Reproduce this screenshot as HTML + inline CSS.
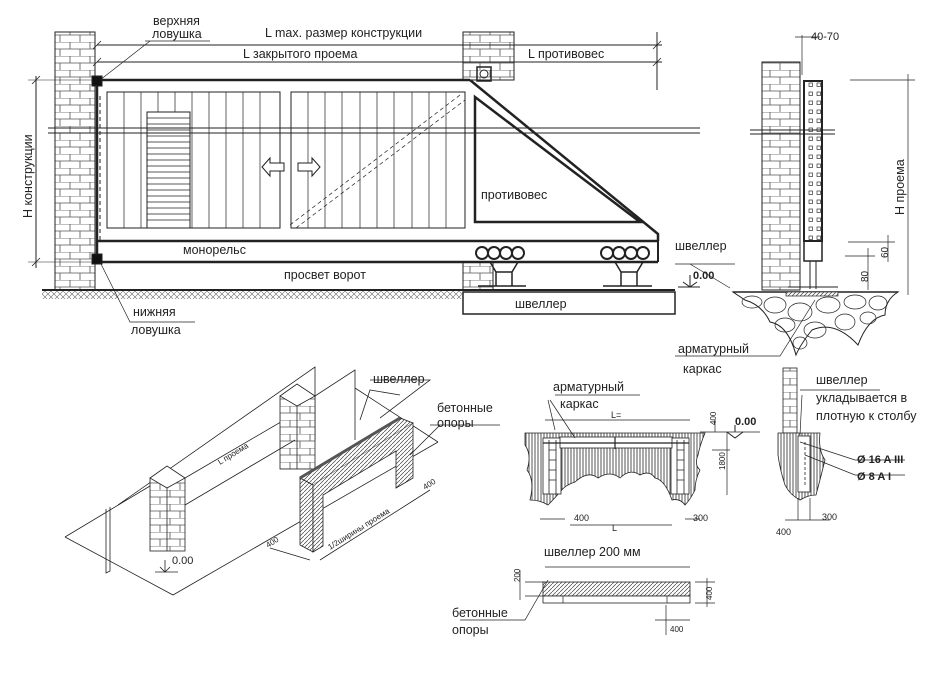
<!DOCTYPE html>
<html><head><meta charset="utf-8"><style>
html,body{margin:0;padding:0;background:#fff;}
svg{display:block;font-family:"Liberation Sans",sans-serif;}
text{fill:#222;}
</style></head><body>
<svg width="945" height="677" viewBox="0 0 945 677" xmlns="http://www.w3.org/2000/svg">
<defs>
<pattern id="brick" width="20" height="14" patternUnits="userSpaceOnUse">
<rect width="20" height="14" fill="#fff"/>
<path d="M0 0H20M0 7H20M10 0V7M0 7V14M20 7V14" stroke="#555" stroke-width="0.8" fill="none"/>
</pattern>
<pattern id="hatch" width="4" height="4" patternUnits="userSpaceOnUse">
<rect width="4" height="4" fill="#fff"/><path d="M0 4L4 0" stroke="#444" stroke-width="0.7"/>
</pattern>
<pattern id="vhatch" width="3" height="3" patternUnits="userSpaceOnUse">
<rect width="3" height="3" fill="#fff"/><path d="M1 0V3" stroke="#555" stroke-width="1"/>
</pattern>
<pattern id="xhatch" width="6" height="6" patternUnits="userSpaceOnUse">
<path d="M0 6L6 0M0 0L6 6" stroke="#666" stroke-width="0.6"/>
</pattern>
<pattern id="cells" width="8" height="9" patternUnits="userSpaceOnUse">
<rect width="8" height="9" fill="#fff"/><rect x="1" y="2" width="3.5" height="3.5" fill="none" stroke="#333" stroke-width="0.7"/>
</pattern>
</defs>
<g stroke="#222" fill="none" stroke-width="1">
<!-- left pillar -->
<rect x="55" y="32" width="40" height="258" fill="url(#brick)"/>
<!-- right pillar -->
<rect x="463" y="32" width="51" height="48" fill="url(#brick)"/>
<rect x="463" y="262" width="30" height="28" fill="url(#brick)"/>
<!-- dims top -->
<line x1="97" y1="45" x2="662" y2="45"/>
<line x1="97" y1="62" x2="662" y2="62"/>
<line x1="657" y1="32" x2="657" y2="90"/>
<path d="M653 49L661 41M653 66L661 58M93 49L101 41M93 66L101 58" stroke-width="0.8"/>
<line x1="36" y1="76" x2="36" y2="268"/>
<line x1="28" y1="80" x2="100" y2="80" stroke-width="0.6"/>
<line x1="28" y1="262" x2="100" y2="262" stroke-width="0.6"/>
<path d="M32 84L40 76M32 266L40 258" stroke-width="0.8"/>
<!-- frame -->
<line x1="97" y1="80" x2="470" y2="80" stroke-width="2.5"/>
<line x1="97" y1="80" x2="97" y2="262" stroke-width="2.5"/>
<line x1="97" y1="241" x2="658" y2="241" stroke-width="2.5"/>
<line x1="97" y1="262" x2="658" y2="262" stroke-width="2.5"/>
<line x1="658" y1="241" x2="658" y2="262" stroke-width="2"/>
<polyline points="470,80 658,234 658,241" stroke-width="2.5"/>
<polygon points="475,97 475,222 640,222" stroke-width="2.5"/>
<rect x="92" y="76" width="10" height="10" fill="#111"/>
<rect x="92" y="254" width="10" height="10" fill="#111"/>
<rect x="477" y="67" width="14" height="14" stroke-width="1.5"/>
<circle cx="484" cy="74" r="4"/>
<!-- panels -->
<rect x="107" y="92" width="173" height="136"/>
<rect x="291" y="92" width="174" height="136"/>
<g stroke-width="0.7">
<path d="M124 92V228M141 92V228M158 92V228M175 92V228M192 92V228M209 92V228M226 92V228M243 92V228M260 92V228"/>
<path d="M308 92V228M325 92V228M342 92V228M360 92V228M377 92V228M394 92V228M412 92V228M429 92V228M446 92V228"/>
</g>
<rect x="147" y="112" width="43" height="116" fill="#fff"/>
<g stroke-width="0.7"><path d="M147 118H190M147 124H190M147 130H190M147 136H190M147 142H190M147 148H190M147 154H190M147 160H190M147 166H190M147 172H190M147 178H190M147 184H190M147 190H190M147 196H190M147 202H190M147 208H190M147 214H190M147 220H190"/></g>
<path d="M290 225L460 95M296 228L465 100" stroke-dasharray="4,3" stroke-width="0.7"/>
<path d="M100 96V240" stroke-dasharray="4,3"/>
<line x1="48" y1="128" x2="700" y2="128"/>
<line x1="48" y1="133" x2="700" y2="133"/>
<path d="M262 167L270 158V163H284V171H270V176Z" fill="#fff"/>
<path d="M320 167L312 158V163H298V171H312V176Z" fill="#fff"/>
<g stroke-width="2">
<circle cx="482" cy="253" r="6"/><circle cx="494" cy="253" r="6"/><circle cx="506" cy="253" r="6"/><circle cx="518" cy="253" r="6"/>
<circle cx="607" cy="253" r="6"/><circle cx="619" cy="253" r="6"/><circle cx="631" cy="253" r="6"/><circle cx="643" cy="253" r="6"/>
</g>
<path d="M490 262L496 272H512L518 262M496 272V286M512 272V286M478 286H526" stroke-width="1.5"/>
<path d="M615 262L621 272H637L643 262M621 272V286M637 272V286M603 286H652" stroke-width="1.5"/>
<line x1="42" y1="290" x2="675" y2="290" stroke-width="2"/>
<rect x="42" y="291" width="420" height="8" fill="url(#xhatch)" stroke="none"/>
<rect x="463" y="292" width="212" height="22" stroke-width="1.5" fill="#fff"/>
<path d="M145 41H210M150 41L100 80" stroke-width="0.7"/>
<path d="M100 262L130 322H195" stroke-width="0.7"/>
<path d="M675 264H735M690 264L730 288" stroke-width="0.7"/>
<path d="M690 275V287M678 287H700M683 282L690 287L697 282" stroke-width="1"/>
<!-- right section -->
<rect x="762" y="62" width="38" height="228" fill="url(#brick)"/>
<line x1="802" y1="35" x2="802" y2="75" stroke-width="0.7"/>
<line x1="795" y1="37" x2="820" y2="37" stroke-width="0.7"/>
<rect x="804" y="81" width="18" height="160" fill="url(#cells)" stroke-width="2"/>
<rect x="804" y="241" width="18" height="20" stroke-width="1.5"/>
<path d="M810 261V289M816 261V289M788 287H838" stroke-width="1"/>
<line x1="750" y1="130" x2="835" y2="130"/>
<line x1="750" y1="134" x2="835" y2="134"/>
<path d="M850 80H915M908 74V295M848 242H895M845 256H875M888 235V262M868 248V290" stroke-width="0.7"/>
<path d="M733 292H898Q885 300 885 315Q868 318 858 345Q835 320 812 330Q800 345 796 355Q788 325 770 322Q762 305 745 300Z" fill="#fff"/>
<path d="M733 292H898" stroke-width="1.5"/>
<rect x="786" y="292" width="52" height="4" fill="url(#hatch)" stroke-width="0.7"/>
<g stroke-width="0.7">
<ellipse cx="752" cy="302" rx="10" ry="6"/><ellipse cx="775" cy="305" rx="11" ry="8"/><ellipse cx="800" cy="312" rx="12" ry="9"/>
<ellipse cx="828" cy="305" rx="12" ry="8"/><ellipse cx="855" cy="302" rx="11" ry="7"/><ellipse cx="878" cy="303" rx="9" ry="7"/>
<ellipse cx="785" cy="325" rx="10" ry="7"/><ellipse cx="815" cy="330" rx="11" ry="8"/><ellipse cx="845" cy="322" rx="10" ry="8"/>
<ellipse cx="868" cy="318" rx="8" ry="6"/><ellipse cx="800" cy="343" rx="7" ry="6"/>
</g>
<path d="M675 356H780L815 300" stroke-width="0.7"/>
</g>
<g font-size="12.5">
<text x="153" y="25">верхняя</text><text x="152" y="38">ловушка</text>
<text x="265" y="37">L max. размер  конструкции</text>
<text x="243" y="58">L закрытого проема</text>
<text x="528" y="58">L противовес</text>
<text x="481" y="199">противовес</text>
<text x="183" y="254">монорельс</text>
<text x="284" y="279">просвет ворот</text>
<text x="515" y="308">швеллер</text>
<text x="133" y="316">нижняя</text><text x="131" y="334">ловушка</text>
<text x="675" y="250">швеллер</text>
<text x="693" y="279" font-weight="bold" font-size="11">0.00</text>
<text x="678" y="353">арматурный</text><text x="683" y="373">каркас</text>
<text x="811" y="40" font-size="11">40-70</text>
<text transform="translate(32,218) rotate(-90)">Н конструкции</text>
<text transform="translate(904,215) rotate(-90)">Н проема</text>
<text transform="translate(888,258) rotate(-90)" font-size="10">60</text>
<text transform="translate(868,282) rotate(-90)" font-size="10">80</text>
</g>
<!-- bottom left iso -->
<g stroke="#222" fill="none" stroke-width="0.8">
<path d="M65 537L150 486M65 537L173 595L438 442M355 388L438 442M315 402L185 478"/>
<path d="M106 509V573L110 571V507"/>
<path d="M118 505L315 367V440"/>
<rect x="150" y="478" width="35" height="73" fill="url(#brick)"/>
<path d="M150 478L167 466L185 478L167 488Z" fill="#fff"/>
<path d="M167 488V551"/>
<rect x="280" y="396" width="35" height="73" fill="url(#brick)"/>
<path d="M280 396L297 384L315 396L297 406Z" fill="#fff"/>
<path d="M297 406V469M315 396L355 370V440"/>
<path d="M300 478L400 418L413 423L313 485Z" fill="url(#hatch)"/>
<path d="M300 478V545L313 552V485Z" fill="url(#hatch)"/>
<path d="M313 485V552L323 546V495L396 451V488L413 478V423" fill="url(#hatch)"/>
<path d="M300 478L400 418" stroke-width="3" stroke="#555"/>
<path d="M185 505L295 440M270 548L310 560M320 560L430 490M400 395L370 390L360 420"/>
<path d="M165 560V572M155 572H178M160 567L165 572L170 567"/>
<path d="M370 380H430L380 418M430 425H500M440 425L410 455"/>
</g>
<g font-size="12.5">
<text x="373" y="383">швеллер</text>
<text x="437" y="412">бетонные</text><text x="437" y="427">опоры</text>
<text x="172" y="564" font-size="11">0.00</text>
<text transform="translate(220,465) rotate(-32)" font-size="8">L проема</text>
<text transform="translate(330,550) rotate(-32)" font-size="8">1/2ширины проема</text>
<text transform="translate(268,548) rotate(-32)" font-size="8">400</text>
<text transform="translate(425,490) rotate(-32)" font-size="8">400</text>
</g>
<!-- bottom middle section -->
<g stroke="#222" fill="none" stroke-width="0.8">
<path d="M525 433H705Q700 445 698 455Q694 465 700 470Q695 480 695 490Q690 500 685 505Q680 498 672 500Q665 480 655 478Q650 470 640 475Q630 468 620 478Q610 470 598 478Q588 470 575 482Q565 485 560 492Q553 500 548 505Q540 500 530 500Q535 480 527 470Q532 455 525 445Z" fill="url(#vhatch)"/>
<rect x="543" y="438" width="18" height="56" fill="#fff"/>
<rect x="671" y="438" width="18" height="56" fill="#fff"/>
<rect x="560" y="437" width="112" height="11" fill="#fff"/>
<path d="M549 440V494M556 440V494M677 440V494M684 440V494M549 450H556M549 460H556M549 470H556M549 480H556M677 450H684M677 460H684M677 470H684M677 480H684"/>
<path d="M543 443H689M615 437V449" stroke-width="1.2"/>
<path d="M545 420H690M700 432H760M727 432V495M712 450H730M715 420V432" stroke-width="0.7"/>
<path d="M735 425V432M727 432L735 438L743 432" stroke-width="1"/>
<path d="M540 519H565M570 525H672M685 519H700M555 395H640M548 400L555 430M550 400L575 438" stroke-width="0.7"/>
<rect x="783" y="368" width="14" height="65" fill="url(#brick)"/>
<path d="M778 433H820Q818 450 825 460Q820 480 816 495Q808 495 800 500Q790 495 785 485Q780 470 778 455Z" fill="url(#vhatch)"/>
<rect x="798" y="436" width="12" height="56" fill="#fff"/>
<path d="M805 442V485" stroke-dasharray="3,2"/>
<path d="M800 390H880M802 395L800 435M800 442L855 460H905M805 455L855 475H905M798 498V520M810 498V520M785 520H830" stroke-width="0.7"/>
<rect x="543" y="582" width="147" height="14" fill="url(#hatch)"/>
<rect x="543" y="596" width="147" height="7" fill="#fff"/>
<path d="M563 596V603M667 596V603M525 582H545M525 596H545M520 570V600M695 582H715M695 603H715M707 578V607M666 605V635M655 620H690M545 567H690M548 580L525 620H460" stroke-width="0.7"/>
</g>
<g font-size="12.5">
<text x="553" y="391">арматурный</text><text x="560" y="408">каркас</text>
<text x="611" y="418" font-size="9">L=</text>
<text x="735" y="425" font-weight="bold" font-size="11">0.00</text>
<text transform="translate(716,425) rotate(-90)" font-size="8">400</text>
<text transform="translate(725,470) rotate(-90)" font-size="8">1800</text>
<text x="574" y="521" font-size="9">400</text>
<text x="612" y="531" font-size="9">L</text>
<text x="693" y="521" font-size="9">300</text>
<text x="816" y="384">швеллер</text>
<text x="816" y="402">укладывается в</text>
<text x="816" y="420">плотную к столбу</text>
<text x="857" y="463" font-weight="bold" font-size="11">Ø 16 A III</text>
<text x="857" y="480" font-weight="bold" font-size="11">Ø 8 A I</text>
<text x="822" y="520" font-size="9">300</text>
<text x="776" y="535" font-size="9">400</text>
<text x="544" y="556">швеллер 200 мм</text>
<text transform="translate(520,582) rotate(-90)" font-size="8">200</text>
<text transform="translate(712,600) rotate(-90)" font-size="8">400</text>
<text x="670" y="632" font-size="8">400</text>
<text x="452" y="617">бетонные</text><text x="452" y="634">опоры</text>
</g>
</svg>
</body></html>
